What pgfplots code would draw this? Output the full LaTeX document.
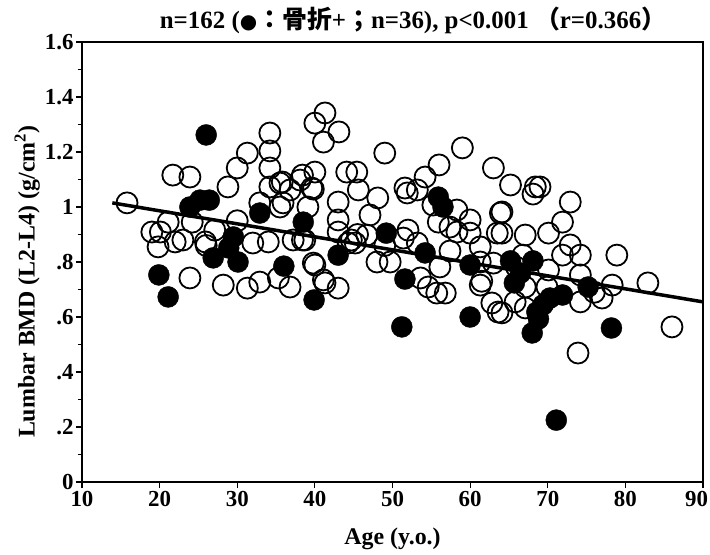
\documentclass[border=0pt]{standalone}
\usepackage{pgfplots}
\pgfplotsset{compat=1.18}
\usepackage{fontspec}
\setmainfont{Liberation Serif}
\newfontfamily\cjk{Noto Sans CJK JP}
\newfontfamily\dejavu{DejaVu Sans}
\begin{document}
\begin{tikzpicture}
\path[use as bounding box] (-82bp,-73bp) rectangle (628bp,482bp);
\begin{axis}[
  at={(0,0)}, anchor=south west,
  scale only axis, width=621bp, height=440bp,
  xmin=10, xmax=90, ymin=0, ymax=1.6,
  xtick={10,20,...,90},
  xticklabels={10,20,30,40,50,60,70,80,{\makebox[0pt][r]{90\hspace{-5bp}}}},
  ytick={0,0.2,0.4,0.6,0.8,1,1.2,1.4,1.6},
  yticklabels={0,.2,.4,.6,.8,1,1.2,1.4,1.6},
  minor ytick={0.1,0.3,0.5,0.7,0.9,1.1,1.3,1.5},
  tick align=outside, major tick length=6bp, minor tick length=4bp,
  xtick pos=bottom, ytick pos=left,
  axis line style={line width=2.5bp},
  every tick/.style={line width=1.2bp, black},
  /pgf/number format/assume math mode=true,
  tick label style={font=\bfseries\fontsize{23}{23}\selectfont},
  yticklabel style={xshift=1bp},
  xlabel={\bfseries Age (y.o.)},
  ylabel={\bfseries Lumbar BMD (L2-L4) (g/cm$^{\mathbf 2}$)},
  label style={font=\bfseries\fontsize{24}{26}\selectfont},
  xlabel style={yshift=-14bp},
  ylabel style={at={(ticklabel cs:0.455)}, yshift=-2bp},
  clip=false,
]
% open circles (no fracture)
\addplot[only marks, mark=o, mark size=10.5bp, mark options={line width=1.8bp, black}] coordinates {
(15.8,1.015)(21.7,1.116)(23.9,1.109)(31.3,1.196)(30.0,1.142)(28.8,1.073)
(34.2,1.269)(34.2,1.204)(34.2,1.142)(34.2,1.073)(35.5,1.087)(32.9,1.015)
(35.9,1.015)(35.5,1.0)(21.1,0.945)(19.0,0.909)(20.1,0.909)(19.8,0.855)
(22.0,0.873)(23.0,0.88)(24.2,0.945)(25.9,0.873)(27.1,0.916)(32.0,0.869)
(34.0,0.873)(37.2,0.88)(23.9,0.742)(28.2,0.716)(31.3,0.705)(32.9,0.727)
(35.3,0.742)(36.8,0.709)(38.1,1.098)(36.8,1.062)(39.6,1.069)(39.1,1.0)
(43.0,1.018)(45.6,1.062)(48.1,1.033)(47.1,0.971)(43.0,0.953)(43.0,0.909)
(45.2,0.869)(44.3,0.869)(46.7,0.898)(38.4,0.88)(40.0,0.789)(41.1,0.735)
(43.0,0.705)(48.0,0.80)(49.7,0.80)(51.6,1.069)(51.4,0.887)(40.0,1.305)
(41.3,1.342)(43.1,1.273)(41.1,1.236)(49.0,1.196)(59.0,1.215)(63.0,1.142)
(56.0,1.153)(54.2,1.109)(51.9,1.051)(53.2,1.062)(44.1,1.127)(45.4,1.127)
(38.4,1.116)(40.0,1.127)(39.8,1.065)(35.8,1.091)(55.2,1.007)(55.9,0.945)
(58.3,0.989)(60.0,0.953)(60.0,0.905)(57.4,0.927)(63.9,0.978)(63.5,0.905)
(61.3,0.855)(52.0,0.916)(53.2,0.869)(56.1,0.782)(54.6,0.709)(55.7,0.687)
(56.8,0.687)(53.6,0.742)(61.3,0.716)(62.8,0.651)(63.6,0.618)(41.3,0.724)
(39.8,0.796)(38.7,0.88)(44.7,0.88)(65.2,1.08)(68.4,1.073)(69.0,1.073)
(68.1,1.047)(72.9,1.018)(71.9,0.945)(64.1,0.982)(64.1,0.905)(67.1,0.898)
(70.1,0.905)(72.9,0.862)(71.9,0.825)(74.2,0.825)(78.9,0.825)(63.0,0.796)
(66.8,0.825)(70.1,0.771)(74.2,0.753)(67.1,0.709)(69.9,0.709)(78.3,0.716)
(82.9,0.724)(64.1,0.615)(65.8,0.655)(67.1,0.633)(74.2,0.655)(77.0,0.669)
(86.0,0.564)(73.9,0.469)(58.3,0.909)(57.4,0.84)(61.3,0.80)(66.0,0.78)
(61.5,0.73)(45.5,0.90)(49.0,0.86)(30.0,0.95)(26.0,0.86)(76.0,0.69)
};
% filled circles (fracture +)
\addplot[only marks, mark=*, mark size=10.5bp, mark options={black, fill=black}] coordinates {
(26.0,1.262)(23.9,1.0)(25.2,1.025)(26.4,1.025)(19.9,0.753)(21.1,0.673)
(26.9,0.815)(29.5,0.891)(28.9,0.851)(30.1,0.80)(32.9,0.978)(36.0,0.785)
(38.5,0.945)(43.0,0.825)(39.9,0.662)(49.2,0.905)(54.2,0.833)(55.9,1.036)
(51.6,0.738)(60.0,0.789)(60.0,0.60)(51.2,0.564)(65.2,0.804)(68.1,0.804)
(65.7,0.724)(69.4,0.644)(68.6,0.618)(71.9,0.68)(75.2,0.709)(68.0,0.542)
(78.2,0.56)(71.1,0.225)(68.8,0.593)(70.3,0.669)(66.5,0.76)(56.5,1.00)
};
% regression line
\addplot[black, line width=3.5bp] coordinates {(13.9,1.015)(90,0.655)};
\node[anchor=base, font=\bfseries\fontsize{25}{25}\selectfont] at ([yshift=13bp]rel axis cs:0.533,1)
  {n=162 ({\dejavu\fontsize{20}{20}\selectfont●}{\cjk\bfseries：骨折}+{\cjk\bfseries；}n=36), p<0.001 {\cjk\bfseries（}r=0.366{\cjk\bfseries）}};
\end{axis}
\end{tikzpicture}
\end{document}
